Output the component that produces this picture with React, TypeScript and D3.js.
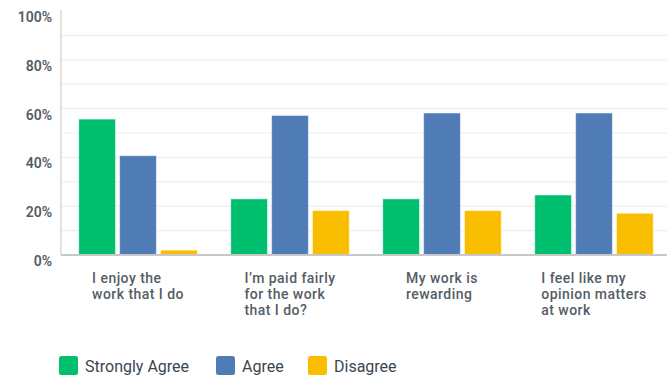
import React from "react";
import * as d3 from "d3";

const categories: string[][] = [
  ["I enjoy the", "work that I do"],
  ["I\u2019m paid fairly", "for the work", "that I do?"],
  ["My work is", "rewarding"],
  ["I feel like my", "opinion matters", "at work"],
];
const seriesNames = ["Strongly Agree", "Agree", "Disagree"];
const seriesColors = ["#00BF6F", "#507CB6", "#F9BE00"];
const stronglyAgree = [55.7, 23, 23, 24.6];
const agree = [40.7, 57.2, 58.2, 58.2];
const disagree = [2, 18.2, 18.2, 17.1];
const yTicks = [0, 20, 40, 60, 80, 100];
const gridTicks = [10, 20, 30, 40, 50, 60, 70, 80, 90];

const W = 667;
const H = 379;
const left = 61;
const right = 670;
const top = 11;
const bottom = 255;

const catFont = "500 14px Roboto";
const catSpacing = 0.45;
const textColor = "#545d66";

function measure(text: string, font: string, spacing: number): number {
  if (typeof document === "undefined") return text.length * 7;
  const c = document.createElement("canvas");
  const ctx = c.getContext("2d")!;
  ctx.font = font;
  return ctx.measureText(text).width + spacing * text.length;
}

export default function App() {
  const series = [stronglyAgree, agree, disagree];
  const idx = categories.map((_, i) => String(i));
  const x0 = d3.scaleBand<string>().domain(idx).range([left + 1, right]).paddingInner(0.22).paddingOuter(0.11);
  const x1 = d3.scaleBand<string>().domain(seriesNames).range([0, x0.bandwidth()]).paddingInner(0.1);
  const y = d3.scaleLinear().domain([0, 100]).range([bottom, top]);

  const legendX = [59, 216, 308];

  return (
    <div style={{ position: "fixed", left: 0, top: 0 }}>
      <svg width={W} height={H} style={{ display: "block", background: "#fff" }}>
        {gridTicks.map((t) => (
          <line key={t} x1={left} x2={W} y1={y(t)} y2={y(t)} stroke="#eeeeee" strokeWidth={1.2} />
        ))}
        <line x1={left} x2={left} y1={10} y2={bottom} stroke="#d9d9d9" strokeWidth={1.5} />
        {yTicks.map((t) => (
          <text
            key={t}
            x={52}
            y={y(t) + 11}
            textAnchor="end"
            fontFamily="Roboto"
            fontWeight={600}
            fontSize={14}
            fill={textColor}
          >
            {t}%
          </text>
        ))}
        {idx.map((c, i) => (
          <g key={c} transform={`translate(${x0(c)},0)`}>
            {seriesNames.map((s, j) => (
              <rect
                key={s}
                x={x1(s)}
                y={y(series[j][i])}
                width={x1.bandwidth()}
                height={bottom - y(series[j][i])}
                fill={seriesColors[j]}
                stroke="#ffffff"
                strokeOpacity={0.5}
                strokeWidth={1}
              />
            ))}
          </g>
        ))}
        <line x1={left} x2={W} y1={bottom} y2={bottom} stroke="#c8c8c8" strokeWidth={2} />
        {categories.map((lines, i) => {
          const cx = (x0(String(i)) as number) + x0.bandwidth() / 2;
          const maxW = Math.max(...lines.map((l) => measure(l, catFont, catSpacing)));
          const sx = cx - maxW / 2;
          return (
            <text
              key={i}
              fontFamily="Roboto"
              fontWeight={500}
              fontSize={14}
              letterSpacing={catSpacing}
              fill={textColor}
            >
              {lines.map((l, k) => (
                <tspan key={k} x={sx} y={283 + k * 16}>
                  {l}
                </tspan>
              ))}
            </text>
          );
        })}
        {seriesNames.map((s, j) => (
          <g key={s} transform={`translate(${legendX[j]},356)`}>
            <rect width={19} height={19} rx={2.5} fill={seriesColors[j]} />
            <text x={26} y={16} fontFamily="Roboto" fontSize={16} fill="#3b4650">
              {s}
            </text>
          </g>
        ))}
      </svg>
    </div>
  );
}
